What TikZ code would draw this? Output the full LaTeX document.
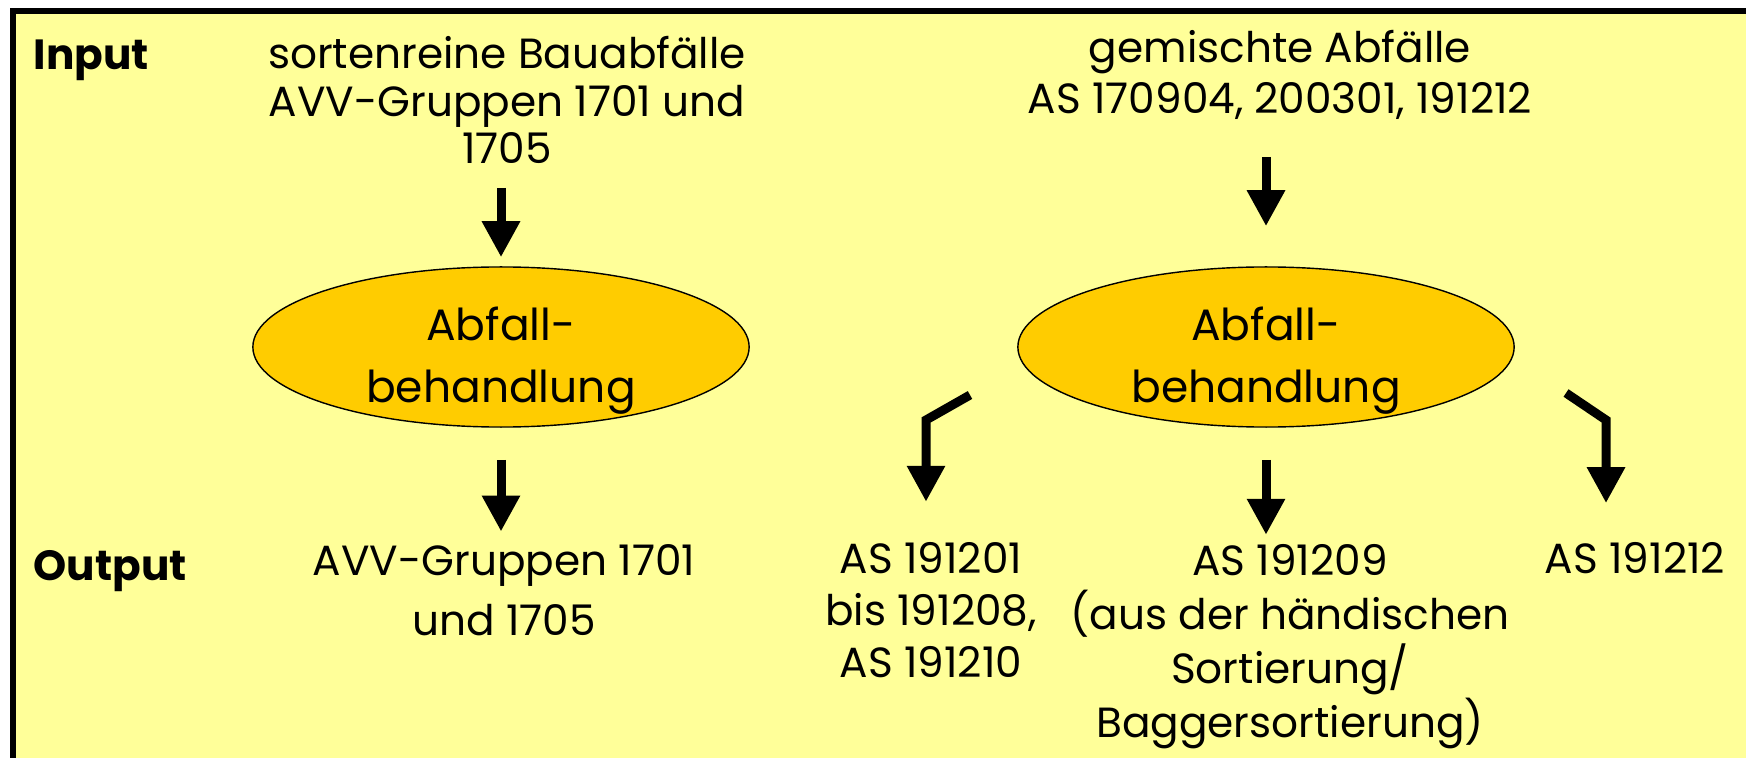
\documentclass[tikz,border=0pt]{standalone}
\usepackage{fontspec}
\setmainfont{Poppins}
\usetikzlibrary{shapes.geometric,arrows.meta}
\definecolor{bgfill}{HTML}{FFFF99}
\definecolor{procfill}{HTML}{FFCC00}
\tikzset{
    node_text/.style = {align=center, inner sep=0pt, anchor=base, font=\fontsize{12}{15}\selectfont},
    node_head/.style = {anchor=base west, inner sep=0pt, font=\fontsize{12}{15}\selectfont\bfseries},
    node_proc/.style = {ellipse, draw=black, fill=procfill, align=center, inner sep=0pt,
                        minimum width=4.96cm, minimum height=1.6cm,
                        font=\fontsize{12.5}{17.5}\selectfont, text height=31.4pt, text depth=0pt},
    edge_flow/.style = {line width=0.09cm, -{Triangle[width=0.36cm,length=0.36cm]}}
}

\begin{document}
\begin{tikzpicture}[x=0.01cm, y=-0.01cm]
    \useasboundingbox (0,0) rectangle (1746,758);
    \clip (0,0) rectangle (1746,758);
    \draw[line width=0.06cm, fill=bgfill] (13,11) rectangle (1800,800); % frame

    \node[node_head] (inp) at (33,70) {Input};
    \node[node_head] (outp) at (33,580) {Output};

    % inputs (placed at the baseline of the last line)
    \node[node_text, font=\fontsize{12}{13.6}\selectfont] (srcL) at (507,164)
        {sortenreine Bauabfälle\\AVV-Gruppen 1701 und\\1705};
    \node[node_text, font=\fontsize{12}{14.6}\selectfont] (srcR) at (1280,114)
        {gemischte Abfälle\\AS 170904, 200301, 191212};

    % treatment
    \node[node_proc] (procL) at (501,347) {Abfall-\\behandlung};
    \node[node_proc] (procR) at (1266,347) {Abfall-\\behandlung};

    % outputs
    \node[node_text, font=\fontsize{12}{17}\selectfont] (outL) at (504,635) {AVV-Gruppen 1701\\und 1705};
    \node[node_text, font=\fontsize{12}{14.7}\selectfont] (out1) at (931,677) {AS 191201\\bis 191208,\\AS 191210};
    \node[node_text, font=\fontsize{12}{15.3}\selectfont] (out2) at (1290,737)
        {AS 191209\\(aus der händischen\\Sortierung/\\Baggersortierung)};
    \node[node_text] (out3) at (1635,573) {AS 191212};

    \coordinate (fromL) at (970,395);
    \coordinate (fromR) at (1566,393);

    \draw[edge_flow, shorten <=0.23cm, shorten >=0.09cm] (srcL.south -| procL.north) -- (procL.north);
    \draw[edge_flow, shorten <=0.36cm, shorten >=0.40cm] (srcR.south -| procR.north) -- (procR.north);
    \draw[edge_flow, shorten <=0.32cm, shorten >=0.12cm] (procL.south) -- (procL.south |- outL.north);
    \draw[edge_flow, shorten <=0.32cm, shorten >=0.09cm] (procR.south) -- (procR.south |- out2.north);
    \draw[edge_flow, shorten >=0.40cm] (fromL) -- ++(-44,25) coordinate (kneeL) -- (kneeL |- out1.north);
    \draw[edge_flow, shorten >=0.38cm] (fromR) -- ++(40,27) coordinate (kneeR) -- (kneeR |- out3.north);
\end{tikzpicture}
\end{document}
